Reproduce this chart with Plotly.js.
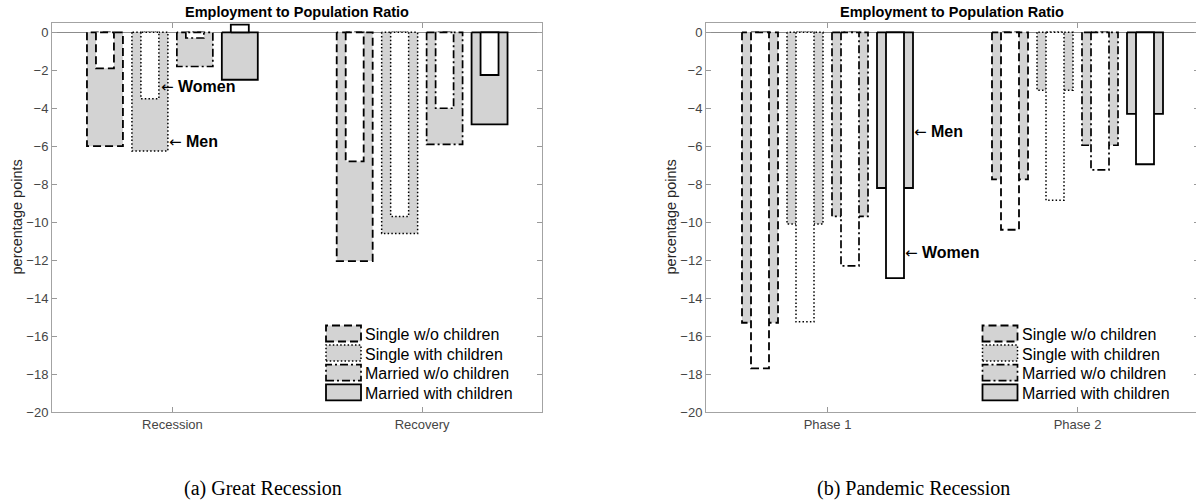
<!DOCTYPE html>
<html><head><meta charset="utf-8">
<script src="https://cdn.plot.ly/plotly-3.0.1.min.js"></script>
<style>html,body{margin:0;padding:0;overflow:hidden;background:#fff}#chart{width:1200px;height:504px}</style>
</head><body><div id="chart"></div>
<script>
// ---- data ----
const catsGreat = ['Recession', 'Recovery'];
const catsPandemic = ['Phase 1', 'Phase 2'];
const groups = ['Single w/o children', 'Single with children', 'Married w/o children', 'Married with children'];
// Great Recession: [Recession, Recovery] per group
const greatMen = [[-6.0, -12.05], [-6.25, -10.6], [-1.8, -5.9], [-2.5, -4.85]];
const greatWomen = [[-1.9, -6.8], [-3.5, -9.7], [-0.3, -4.0], [0.4, -2.25]];
// Pandemic Recession: [Phase 1, Phase 2] per group
const pandMen = [[-15.3, -7.75], [-10.1, -3.05], [-9.7, -5.95], [-8.2, -4.3]];
const pandWomen = [[-17.7, -10.4], [-15.25, -8.85], [-12.3, -7.25], [-12.95, -6.95]];
const yTicks = [-20, -18, -16, -14, -12, -10, -8, -6, -4, -2, 0];
const panelTitle = 'Employment to Population Ratio';
const yTitle = 'percentage points';
const captions = ['(a) Great Recession', '(b) Pandemic Recession'];

// ---- styles ----
const W = 1200, H = 504;
const offsets = [-0.27, -0.09, 0.09, 0.27];
const wideW = 0.144, narrowW = 0.072;
const dashes = ['8px,4px', '1.5px,2.2px', '8px,3px,2px,3px', 'solid'];
const widths = [1.8, 1.5, 1.7, 1.8];
const GRAY = '#d3d3d3';
const FONT = 'Liberation Sans, Arial, sans-serif';
const px = v => v / W, py = v => 1 - v / H;

function barTraces(xa, ya, values, bw, fill) {
  return values.map((vals, g) => {
    const xs = [], ys = [];
    vals.forEach((v, c) => {
      const cx = (c + 1) + offsets[g];
      const x0 = cx - bw / 2, x1 = cx + bw / 2;
      xs.push(x0, x0, x1, x1, x0, null);
      ys.push(0, v, v, 0, 0, null);
    });
    return {type: 'scatter', mode: 'lines', x: xs, y: ys, xaxis: xa, yaxis: ya,
      fill: 'toself', fillcolor: fill,
      line: {color: '#000', width: widths[g], dash: dashes[g]},
      hoverinfo: 'skip', showlegend: false, name: groups[g]};
  });
}

const traces = [
  ...barTraces('x', 'y', greatMen, wideW, GRAY),
  ...barTraces('x', 'y', greatWomen, narrowW, '#ffffff'),
  ...barTraces('x2', 'y2', pandMen, wideW, GRAY),
  ...barTraces('x2', 'y2', pandWomen, narrowW, '#ffffff'),
];

const panels = [
  {left: 52, right: 542, range: [0.518, 2.48], cats: catsGreat},
  {left: 706, right: 1198.5, range: [0.514, 2.484], cats: catsPandemic},
];
const plotTop = 23, plotBot = 412;

function xAxis(p, anchor) {
  return {domain: [px(p.left), px(p.right)], range: p.range, anchor: anchor,
    tickvals: [1, 2], ticktext: p.cats, ticks: 'inside', ticklen: 5, tickcolor: '#999',
    showline: true, linecolor: '#a3a3a3', linewidth: 1, mirror: 'ticks',
    showgrid: false, zeroline: false, fixedrange: true,
    tickfont: {family: FONT, size: 13, color: '#454545'}};
}
function yAxis(anchor) {
  return {domain: [py(plotBot), py(plotTop)], range: [-20, 0.49], anchor: anchor,
    tickvals: yTicks, ticks: 'inside', ticklen: 5, tickcolor: '#999',
    showline: true, linecolor: '#a3a3a3', linewidth: 1, mirror: 'ticks',
    showgrid: false, zeroline: true, zerolinecolor: '#8c8c8c', zerolinewidth: 1,
    fixedrange: true, tickfont: {family: FONT, size: 13, color: '#454545'}};
}

const annotations = [];
const shapes = [];
panels.forEach((p, i) => {
  annotations.push({xref: 'paper', yref: 'paper', x: px((p.left + p.right) / 2), y: py(12),
    xanchor: 'center', yanchor: 'middle', showarrow: false,
    text: '<b>' + panelTitle + '</b>', font: {family: FONT, size: 14.5, color: '#000'}});
  annotations.push({xref: 'paper', yref: 'paper', x: px(p.left - 36), y: py((plotTop + plotBot) / 2),
    xanchor: 'center', yanchor: 'middle', showarrow: false, textangle: -90,
    text: yTitle, font: {family: FONT, size: 14.5, color: '#262626'}});
  annotations.push({xref: 'paper', yref: 'paper', x: px(i === 0 ? 263 : 913), y: py(488),
    xanchor: 'center', yanchor: 'middle', showarrow: false,
    text: captions[i], font: {family: 'Liberation Serif, serif', size: 20, color: '#000'}});
  // legend
  const rows = [333.5, 353, 372.7, 392.3];
  groups.forEach((g, k) => {
    shapes.push({type: 'rect', xref: 'paper', yref: 'paper',
      x0: px(p.right - 216), x1: px(p.right - 181), y0: py(rows[k] + 8), y1: py(rows[k] - 8),
      fillcolor: GRAY, line: {color: '#000', width: widths[k], dash: dashes[k]}});
    annotations.push({xref: 'paper', yref: 'paper', x: px(p.right - 179), y: py(rows[k] + 1),
      xanchor: 'left', yanchor: 'middle', showarrow: false, text: g,
      font: {family: FONT, size: 16, color: '#000'}});
  });
});
// Men / Women labels
const lab = (xa, ya, x, y, t) => ({xref: xa, yref: ya, x: x, y: y, xanchor: 'left', yanchor: 'middle',
  showarrow: false, xshift: -3,
  text: '<span style="font-family:DejaVu Sans;font-size:15px">\u2190</span> <b>' + t + '</b>',
  font: {family: FONT, size: 16, color: '#000'}});
annotations.push(lab('x', 'y', 0.958, -2.9, 'Women'));
annotations.push(lab('x', 'y', 0.99, -5.8, 'Men'));
annotations.push(lab('x2', 'y2', 1.35, -5.25, 'Men'));
annotations.push(lab('x2', 'y2', 1.314, -11.6, 'Women'));

const layout = {
  width: W, height: H, autosize: false,
  margin: {l: 0, r: 0, t: 0, b: 0, pad: 0},
  paper_bgcolor: '#fff', plot_bgcolor: '#fff',
  showlegend: false,
  xaxis: xAxis(panels[0], 'y'), yaxis: yAxis('x'),
  xaxis2: xAxis(panels[1], 'y2'), yaxis2: yAxis('x2'),
  annotations: annotations, shapes: shapes,
};
Plotly.newPlot('chart', traces, layout, {staticPlot: true, displayModeBar: false});
</script></body></html>
